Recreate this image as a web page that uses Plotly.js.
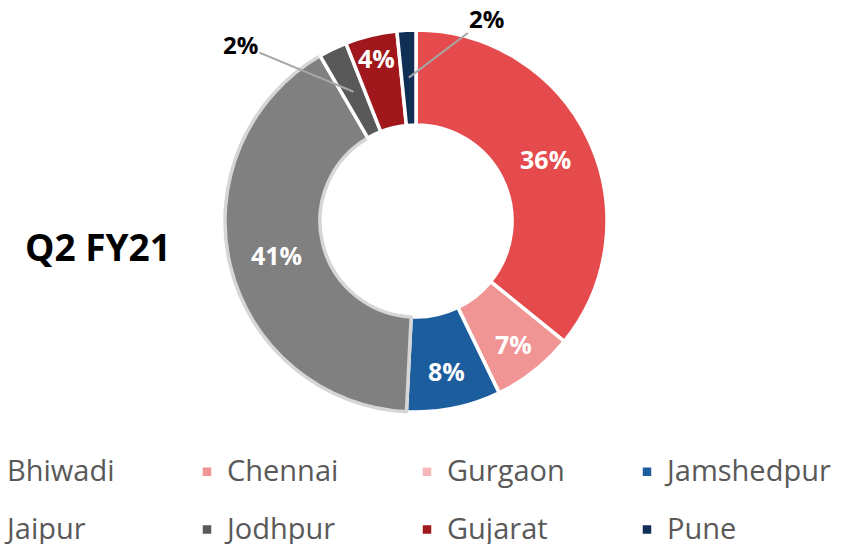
<!DOCTYPE html>
<html><head><meta charset="utf-8">
<script src="https://cdn.plot.ly/plotly-3.0.1.min.js"></script>
<style>
html,body{margin:0;padding:0;overflow:hidden;background:#fff;width:857px;height:544px;position:relative}
#chart{position:absolute;left:-33px;top:0;width:900px;height:544px}
</style>
</head><body><div id="chart"></div>
<script>
// ---- data ----
const cities = ['Bhiwadi','Chennai','Gurgaon','Jamshedpur','Jaipur','Jodhpur','Gujarat','Pune'];
const shares = [36, 7, 0, 8, 41, 2.4, 4.4, 1.6];
const chartTitle = 'Q2 FY21';

// ---- styles ----
const sliceColors = ['#e54b4c','#f09494','#f6b8b8','#1c5d9e','#808080','#595959','#a0181b','#0f2f55'];
const sliceBorders = ['#ffffff','#ffffff','#ffffff','#ffffff','#d6d6d6','#ffffff','#ffffff','#ffffff'];
const labelPositions = ['inside','inside','none','inside','inside','none','inside','none'];
// callout label offsets (px) for the thin slices
const callouts = {5: {ax: -113, ay: -47}, 7: {ax: 78, ay: -59}};

const W = 900, H = 544;
const domX = [258/W, 640/W], domY = [132/H, 514/H];
const holeFrac = 0.503;

const legendLabels = cities.map(c => '<span style="font-size:29px;baseline-shift:7px">' + c + '</span>');

const trace = {
  type: 'pie',
  labels: legendLabels,
  values: shares,
  sort: false,
  direction: 'clockwise',
  rotation: 0,
  hole: holeFrac,
  domain: {x: domX, y: domY},
  marker: {colors: sliceColors, line: {color: sliceBorders, width: 3.5}},
  textposition: labelPositions,
  texttemplate: '%{percent:.0%}',
  insidetextorientation: 'horizontal',
  insidetextfont: {family: 'Open Sans', size: 25, color: '#ffffff', weight: 'bold'},
  hoverinfo: 'skip',
  showlegend: true
};

// callouts anchored at the middle of the ring of each thin slice, derived from the data
const total = shares.reduce((a, b) => a + b, 0);
const cxPx = (domX[0] + domX[1]) / 2 * W;
const cyPx = (domY[0] + domY[1]) / 2 * H;
const Rpx = (domX[1] - domX[0]) * W / 2;
const midR = Rpx * (1 + holeFrac) / 2;
const annotations = [];
let cum = 0;
shares.forEach((v, i) => {
  const mid = (cum + v / 2) / total * 2 * Math.PI;
  cum += v;
  if (callouts[i]) {
    annotations.push({
      xref: 'paper', yref: 'paper',
      x: (cxPx + midR * Math.sin(mid)) / W,
      y: (cyPx + midR * Math.cos(mid)) / H,
      ax: callouts[i].ax, ay: callouts[i].ay,
      text: Math.round(v / total * 100) + '%',
      showarrow: true, arrowhead: 0, arrowwidth: 2, arrowcolor: '#a6a6a6', standoff: 0,
      font: {family: 'Open Sans', size: 24, color: '#000000', weight: 'bold'}
    });
  }
});

const layout = {
  width: W, height: H,
  margin: {l: 0, r: 0, t: 0, b: 0, autoexpand: false},
  paper_bgcolor: '#ffffff',
  title: {
    text: chartTitle,
    font: {family: 'Open Sans', size: 37, color: '#000000', weight: 'bold'},
    xref: 'container', yref: 'container',
    x: 58/W, xanchor: 'left', y: (544-248)/544, yanchor: 'middle'
  },
  uniformtext: {mode: 'show', minsize: 24},
  annotations: annotations,
  showlegend: true,
  legend: {
    orientation: 'h',
    x: 0, xanchor: 'left',
    y: 106/H, yanchor: 'top',
    entrywidth: 175, entrywidthmode: 'pixels',
    font: {family: 'Open Sans', size: 42, color: '#595959'},
    bgcolor: 'rgba(0,0,0,0)',
    traceorder: 'normal'
  }
};

Plotly.newPlot('chart', [trace], layout, {displayModeBar: false, staticPlot: true});
</script>
</body></html>
